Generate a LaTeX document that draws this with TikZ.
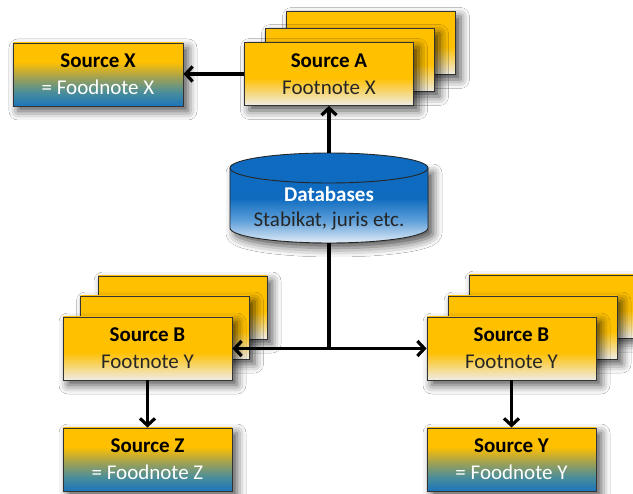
\documentclass[tikz,border=0pt]{standalone}
\usepackage{fontspec}
\setmainfont{Carlito}
\usetikzlibrary{arrows.meta,shadows.blur}

\definecolor{gold}{HTML}{FFC000}
\definecolor{cream}{HTML}{EEECE6}
\definecolor{olive}{HTML}{A3A152}
\definecolor{teal}{HTML}{4A8E9A}
\definecolor{deepblue}{HTML}{1C74BC}
\definecolor{dbblue}{HTML}{0E6BBF}
\definecolor{dbmid}{HTML}{5E9FD9}
\definecolor{dblight}{HTML}{E4EDF7}
\definecolor{txtdark}{HTML}{262626}

% vertical shadings: 25bp = bottom of the path, 75bp = top
\pgfdeclareverticalshading{goldfade}{100bp}{%
  color(0bp)=(cream); color(25bp)=(cream); color(47bp)=(gold); color(100bp)=(gold)}
\pgfdeclareverticalshading{goldblue}{100bp}{%
  color(0bp)=(deepblue); color(25bp)=(deepblue); color(36bp)=(teal);
  color(48bp)=(olive); color(60bp)=(gold); color(100bp)=(gold)}
\pgfdeclareverticalshading{dbfade}{100bp}{%
  color(0bp)=(dblight); color(25bp)=(dblight); color(40bp)=(dbmid);
  color(55bp)=(dbblue); color(100bp)=(dbblue)}

\begin{document}
\begin{tikzpicture}[x=1pt,y=-1pt,
  softshadow/.style={blur shadow={shadow xshift=5pt,shadow yshift=-5pt,
      shadow blur radius=9pt,shadow opacity=70}},
  box/.style={draw=black!80, line width=0.9pt, minimum width=169pt,
      minimum height=63pt, inner sep=0pt, align=center, softshadow,
      font=\fontsize{21}{27}\selectfont},
  srcbox/.style={box, shading=goldfade},
  endbox/.style={box, shading=goldblue},
  conn/.style={line width=3.2pt, -{Straight Barb[length=7pt,width=15pt]}},
  plain/.style={line width=3.2pt}
]
\useasboundingbox[fill=white] (0,0) rectangle (633,494);

% --- source A (stack of three sheets) ---
\node[srcbox] (A3) at (371,43) {};
\node[srcbox] (A2) at (350,60) {};
\node[srcbox] (A) at (329,74) {\textbf{Source A}\\\textcolor{txtdark}{Footnote X}};

% --- source X ---
\node[endbox, minimum width=170pt] (X) at (98,74.5)
  {\textbf{Source X}\\\textcolor{white}{= Foodnote X}};

% --- left source B stack ---
\node[srcbox] (BL3) at (182.5,307.5) {};
\node[srcbox] (BL2) at (165,327.5) {};
\node[srcbox] (BL) at (147.5,348.5) {\textbf{Source B}\\\textcolor{txtdark}{Footnote Y}};

% --- right source B stack ---
\node[srcbox] (BR3) at (553.5,306.5) {};
\node[srcbox] (BR2) at (532.5,327.5) {};
\node[srcbox] (BR) at (511.5,348.5) {\textbf{Source B}\\\textcolor{txtdark}{Footnote Y}};

% --- result boxes ---
\node[endbox] (Z) at (147.5,459.5) {\textbf{Source Z}\\\textcolor{white}{= Foodnote Z}};
\node[endbox] (Y) at (511.5,459.5) {\textbf{Source Y}\\\textcolor{white}{= Foodnote Y}};

% --- database cylinder ---
\path[shading=dbfade, draw=black!85, line width=0.9pt, softshadow]
  (230,168) -- (230,228) arc[start angle=180, end angle=360, x radius=99pt, y radius=15pt]
  -- (428,168) -- cycle;
\draw[fill=dbblue, draw=black!85, line width=0.9pt] (329,168) ellipse [x radius=99pt, y radius=15pt];
\node[font=\fontsize{21}{25}\selectfont, align=center] (DB) at (329,208)
  {\textcolor{white}{\textbf{Databases}}\\\textcolor{txtdark}{Stabikat, juris etc.}};
\coordinate (dbtop) at (329,153);
\coordinate (dbbot) at (329,243);
\coordinate (j) at (329,348.5);

% --- connectors ---
\draw[conn] (A.west) -- (A.west -| X.east);
\draw[conn] (dbtop) -- (A.south);
\draw[plain] (dbbot) -- (j);
\draw[conn] (j) -- (BL.east);
\draw[conn] (j) -- (BR.west);
\draw[conn] (BL.south) -- (Z.north);
\draw[conn] (BR.south) -- (Y.north);
\end{tikzpicture}
\end{document}
